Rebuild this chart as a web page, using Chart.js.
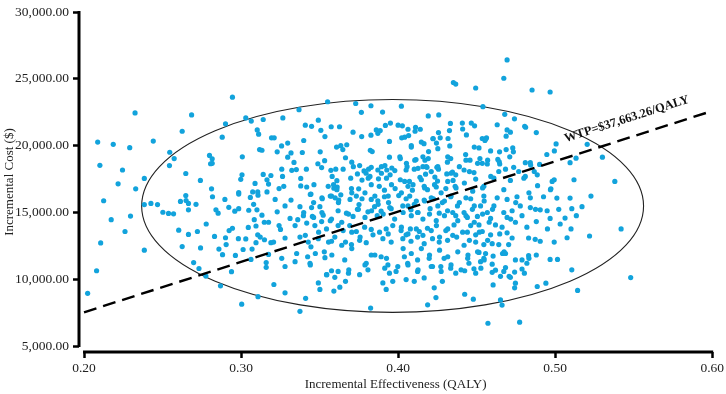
<!DOCTYPE html>
<html><head><meta charset="utf-8">
<script src="https://cdn.jsdelivr.net/npm/chart.js@4/dist/chart.umd.min.js"></script>
<style>html,body{margin:0;padding:0;background:#fff}#wrap{width:726px;height:394px}</style>
</head><body><div id="wrap"><canvas id="c" width="726" height="394"></canvas></div>
<script>
// Monte Carlo simulations: [incremental effectiveness (QALY), incremental cost ($)]
const simLeft = [[0.2325,22450],[0.2087,20270],[0.2186,20100],[0.2291,19850],[0.2441,20350],[0.2101,18530],[0.2245,18180],[0.2217,17150],[0.2384,17550],[0.2329,16770],[0.2125,15880],[0.2384,15590],[0.2426,15680],[0.2468,15590],[0.2173,14460],[0.2296,14730],[0.2261,13580],[0.2106,12720],[0.2384,12180],[0.2080,10640],[0.2023,8950],
[0.2945,23630],[0.2685,22300],[0.2625,21080],[0.2546,19510],[0.2574,19040],[0.2544,18510],[0.2648,17920],[0.2741,17400],[0.2812,16770],[0.2901,21640],[0.2880,20640],[0.3030,22080],[0.3065,21840],[0.3141,21960],[0.3103,21180],[0.3112,20860],[0.3118,19710],[0.3133,19660],[0.3008,19170],[0.2799,19270],[0.2816,19020],[0.2806,18650],[0.2816,18680],[0.3006,17820],[0.2998,17480],[0.3141,17850],[0.3165,17450],[0.3089,17180],[0.3175,17130],[0.3190,17770],[0.2985,16490],[0.3074,16540],[0.3106,16540],[0.3165,16540],[0.3194,20590]];
const simLeftLow = [[0.2502,15020],[0.2538,14930],[0.2570,14900],[0.2614,15830],[0.2648,16270],[0.2650,15900],[0.2665,15680],[0.2665,15200],[0.2713,15610],[0.2603,13680],[0.2665,13360],[0.2722,13580],[0.2625,12450],[0.2742,12350],[0.2698,11250],[0.2732,10810],[0.2776,10240],[0.2778,14140],[0.2818,16180],[0.2897,15980],[0.2840,15200],[0.2854,14950],[0.2922,15390],[0.2960,15100],[0.2985,15290],[0.3049,15170],[0.3101,15200],[0.2985,16380],[0.3059,16130],[0.3108,16300],[0.3080,15610],[0.2831,13210],[0.2901,13110],[0.2924,13650],[0.2945,13820],[0.2983,13040],[0.3030,13020],[0.3046,13880],[0.3095,13990],[0.3084,14460],[0.3133,14800],[0.3148,14270],[0.3175,14270],[0.3106,13330],[0.3122,13160],[0.3095,12740],[0.3149,12960],[0.3190,12740],[0.2905,12600],[0.2859,12260],[0.2882,11840],[0.2964,11790],[0.3013,12230],[0.3070,12260],[0.3063,11490],[0.3175,11860],[0.3160,11250],[0.3160,10900],[0.2939,10570],[0.2869,9510],[0.3108,8700],[0.3004,8140]];
const simMidHigh = [[0.4352,24730],[0.4367,24610],[0.3551,23290],[0.3369,22700],[0.3266,22080],[0.3730,23160],[0.3827,22990],[0.3766,22500],[0.3901,22520],[0.4021,22960],[0.4192,22230],[0.4259,22300],[0.3492,21910],[0.3409,21540],[0.3449,21450],[0.3574,21420],[0.3627,21420],[0.3508,21150],[0.3534,20680],[0.3713,21010],[0.3768,20680],[0.3827,20790],[0.3861,21180],[0.3886,21130],[0.3871,20930],[0.3919,21520],[0.3951,21690],[0.4000,21540],[0.4027,21490],[0.4063,21230],[0.4067,20760],[0.4023,20590],[0.4111,21380],[0.4141,21230],[0.4108,21080],[0.4257,20980],[0.4327,21130],[0.4333,21670],[0.4223,20540],[0.4244,20200],[0.4318,20540],[0.4329,19980],[0.3945,20320],[0.3211,20590],[0.3399,20390],[0.3297,20200],[0.3258,19980],[0.3230,19540],[0.3318,19460],[0.3297,19140],[0.3337,18750],[0.3390,19490],[0.3504,19540],[0.3532,18880],[0.3608,19900],[0.3635,20000],[0.3673,20070],[0.3648,19710],[0.3665,19100],[0.3823,19660],[0.3835,19560],[0.3945,19140],[0.4014,19040],[0.4084,20000],[0.4165,20150],[0.4194,19560],[0.4192,19040],[0.4268,20590],[0.4314,18770],[0.4335,19040],[0.4114,18960],[0.4171,18910]];
const simMidUpper = [[0.3259,18240],[0.3323,18160],[0.3352,18210],[0.3416,18240],[0.3489,18650],[0.3513,18360],[0.3572,18160],[0.3603,18240],[0.3650,18240],[0.3705,18770],[0.3715,18430],[0.3755,18510],[0.3783,18110],[0.3812,18240],[0.3829,18380],[0.3871,18180],[0.3916,18510],[0.3960,18330],[0.3979,18140],[0.4057,18430],[0.4103,18240],[0.4158,18430],[0.4184,18380],[0.4247,18380],[0.4257,18240],[0.4346,18020],[0.3264,17700],[0.3380,17550],[0.3418,16910],[0.3464,17080],[0.3242,16790],[0.3272,16960],[0.3580,17700],[0.3610,17380],[0.3612,16910],[0.3555,16960],[0.3698,17570],[0.3741,17890],[0.3770,17430],[0.3796,17940],[0.3821,17700],[0.3875,17520],[0.3894,17940],[0.3928,18180],[0.3949,17820],[0.4014,17450],[0.4051,18180],[0.4072,17330],[0.4139,17630],[0.4175,17870],[0.4234,17650],[0.4251,17350],[0.4310,17890],[0.4350,17400],[0.3703,16790],[0.3749,16770],[0.3829,17080],[0.3880,16960],[0.3913,16670],[0.3981,16790],[0.4063,16960],[0.4091,16670],[0.4166,16960],[0.4187,16710],[0.4243,16910],[0.4304,16790],[0.4363,16960],[0.4367,17820],[0.3380,16990],[0.3591,16820]];
const simMidLower = [[0.3217,15980],[0.3318,15930],[0.3445,16380],[0.3517,16030],[0.3576,16230],[0.3622,15930],[0.3635,16320],[0.3694,15980],[0.3734,16230],[0.3751,15590],[0.3770,16030],[0.3829,15980],[0.3871,15880],[0.3913,16180],[0.3939,15740],[0.4004,16270],[0.4051,16030],[0.4103,15610],[0.4166,15930],[0.4225,16030],[0.4282,15740],[0.4335,16180],[0.4378,15490],[0.3280,15490],[0.3230,15050],[0.3375,15440],[0.3449,15370],[0.3502,15440],[0.3312,14560],[0.3361,14460],[0.3397,14760],[0.3454,14710],[0.3523,14800],[0.3576,14510],[0.3618,15130],[0.3671,14950],[0.3713,14710],[0.3741,15240],[0.3808,15050],[0.3850,15440],[0.3867,14760],[0.3892,15100],[0.3956,15290],[0.4030,15490],[0.4082,15200],[0.4124,15000],[0.4204,15290],[0.4262,14950],[0.4315,15130],[0.4367,14760],[0.3242,14020],[0.3251,13730],[0.3344,14020],[0.3418,14210],[0.3470,14020],[0.3513,14320],[0.3544,13770],[0.3618,14020],[0.3650,13650],[0.3692,14020],[0.3734,13580],[0.3787,13900],[0.3829,13730],[0.3882,13530],[0.3924,13770],[0.3966,14020],[0.4019,13650],[0.4051,13330],[0.4078,13770],[0.4135,13580],[0.4187,13820],[0.4244,14020],[0.4304,13650],[0.4356,14070],[0.3207,12790],[0.3280,13090],[0.3375,13160],[0.3428,12790],[0.3445,12430],[0.3492,13040],[0.3576,12850],[0.3597,13160],[0.3665,12790],[0.3703,12600],[0.3755,12920],[0.3797,12740],[0.3840,13330],[0.3903,13040],[0.3956,12790],[0.4030,13040],[0.4082,12850],[0.4124,13160],[0.4166,12670],[0.4219,13040],[0.4262,12790],[0.4315,12920],[0.4373,13160]];
const simMidLow = [[0.3354,11930],[0.3259,11570],[0.3280,10960],[0.3344,11320],[0.3424,11690],[0.3439,11200],[0.3530,12060],[0.3534,11620],[0.3544,10350],[0.3576,10640],[0.3597,10150],[0.3618,10590],[0.3660,11450],[0.3686,10710],[0.3665,9850],[0.3629,9410],[0.3591,9120],[0.3492,9730],[0.3502,9240],[0.3280,8990],[0.3411,8580],[0.3375,7600],[0.3209,9610],[0.3755,10350],[0.3808,10710],[0.3797,11200],[0.3829,11820],[0.3892,11690],[0.3935,11080],[0.3903,9730],[0.3924,9240],[0.3945,10460],[0.3987,10590],[0.3966,9850],[0.3998,10960],[0.4040,11690],[0.4061,11200],[0.4051,9980],[0.4103,9850],[0.4124,10590],[0.4166,10100],[0.4124,11450],[0.4198,11570],[0.4219,10960],[0.4272,10960],[0.4293,11570],[0.4335,10830],[0.4367,10460],[0.4282,9850],[0.4230,9360],[0.4241,8630],[0.4188,8090],[0.3825,7850]];
const simRightHigh = [[0.4694,26420],[0.4673,25050],[0.4494,24320],[0.4853,24170],[0.4968,24020],[0.4540,22920],[0.4679,22350],[0.4741,22010],[0.4806,21450],[0.4880,20980],[0.4409,21690],[0.4466,21690],[0.4487,21490],[0.4631,21570],[0.4694,21180],[0.4715,21010],[0.4688,20710],[0.4435,20810],[0.4536,20540],[0.4563,20590],[0.4553,20390],[0.4515,19830],[0.4589,19610],[0.4646,19540],[0.4688,19710],[0.4730,19830],[0.4734,19540],[0.4711,19170],[0.4430,19340],[0.4458,18920],[0.4521,19040],[0.4536,18680],[0.4568,18630],[0.4635,18970],[0.4647,18630],[0.4736,18380],[0.4684,18240],[0.4842,18730],[0.4901,18600],[0.4947,19340],[0.4995,19610],[0.5006,20130],[0.5095,18730],[0.5133,19070],[0.5204,20100],[0.5301,19140],[0.5380,17330],[0.5120,17450],[0.4994,17450],[0.4973,16770],[0.4888,17010],[0.4810,17700],[0.4867,18070],[0.4810,18730],[0.4610,17570],[0.4673,16710],[0.4715,17400],[0.4768,18070],[0.4420,18180],[0.4483,17990],[0.4494,17500],[0.4546,16960],[0.4641,18070]];
const simRightLow = [[0.5228,16230],[0.5095,16080],[0.5011,16080],[0.5171,15440],[0.5106,15290],[0.5135,14760],[0.5063,14580],[0.5032,14140],[0.5101,13770],[0.5076,13110],[0.5219,13240],[0.5420,13770],[0.5481,10130],[0.5143,9170],[0.5106,10710],[0.4941,9710],[0.4886,9460],[0.4747,9710],[0.4742,9360],[0.4652,8460],[0.4662,8070],[0.4479,8510],[0.4424,8880],[0.4572,6710],[0.4774,6790],[0.4605,9580],[0.4715,10150],[0.4789,10770],[0.4804,10460],[0.4742,10540],[0.4673,10590],[0.4620,10680],[0.4599,10520],[0.4652,10220],[0.4483,10790],[0.4494,10460],[0.4424,10640],[0.4968,11490],[0.5015,11490],[0.4880,11820],[0.4831,11770],[0.4820,11200],[0.4789,11450],[0.4684,10880],[0.4747,11450],[0.4684,11930],[0.4665,11930],[0.4599,11130],[0.4525,11320],[0.4557,11930],[0.4451,11200],[0.4445,11820],[0.4515,12010],[0.4546,11570],[0.4605,11740],[0.4420,12550],[0.4494,12790],[0.4546,12600],[0.4599,12670],[0.4641,12600],[0.4704,12600],[0.4726,13090],[0.4694,13480],[0.4647,13400],[0.4589,13330],[0.4536,13580],[0.4494,13330],[0.4441,13530],[0.4462,14020],[0.4515,14070],[0.4620,14070],[0.4662,13900],[0.4747,14270],[0.4820,13900],[0.4831,13090],[0.4873,12990],[0.4905,12850],[0.4994,12790],[0.4880,14320],[0.4951,13770],[0.4968,14560],[0.4905,15200],[0.4842,15370],[0.4778,15490],[0.4726,15130],[0.4673,15000],[0.4610,15490],[0.4568,15000],[0.4525,15490],[0.4473,15240],[0.4420,15000],[0.4441,14630],[0.4505,14710],[0.4589,14560],[0.4694,14630],[0.4789,14760],[0.4926,16180],[0.4842,16100],[0.4757,16180],[0.4694,15980],[0.4631,16100],[0.4546,16230],[0.4462,16030]];
const simCoreRight = [[0.4011,19170],[0.4053,18680],[0.4106,18920],[0.4158,19170],[0.4127,18310],[0.4179,18430],[0.4211,18060],[0.4253,18430],[0.4316,19170],[0.4337,17940],[0.4390,18430],[0.4432,18920],[0.4454,18060],[0.4506,18680],[0.4570,18920],[0.4590,17700],[0.4042,17330],[0.4095,17080],[0.4148,17450],[0.4169,16840],[0.4232,17080],[0.4274,16470],[0.4316,17330],[0.4369,16840],[0.4422,17210],[0.4475,16600],[0.4538,16840],[0.4021,16470],[0.4074,16230],[0.4116,15860],[0.4063,15490],[0.4169,15860],[0.4211,16100],[0.4253,15490],[0.4295,15860],[0.4337,16230],[0.4390,15740],[0.4432,16100],[0.4485,15490],[0.4548,15860],[0.4601,15240],[0.4032,15000],[0.4084,14760],[0.4127,15000],[0.4158,14510],[0.4200,14880],[0.4243,14390],[0.4295,14760],[0.4348,15000],[0.4380,14390],[0.4432,14760],[0.4485,14270],[0.4538,14880],[0.4580,14270],[0.4021,13900],[0.4063,13400],[0.4116,13770],[0.4158,13290],[0.4211,13650],[0.4264,13160],[0.4316,13770],[0.4348,13290],[0.4411,13530],[0.4454,12920],[0.4517,13530],[0.4570,12920],[0.4032,12300],[0.4084,11930],[0.4148,12300],[0.4200,11820],[0.4264,12180],[0.4316,11690],[0.4380,12060],[0.4443,11570],[0.4506,12060],[0.4548,11450],[0.4063,11080],[0.4127,10710],[0.4211,10960],[0.4274,10590],[0.4337,11080],[0.4401,10710],[0.4527,10830],[0.4042,20640],[0.4148,20270],[0.4222,20520],[0.4411,21250],[0.4559,20520],[0.4485,19900],[0.4253,19780],[0.4084,19900]];
const simCoreLeft = [[0.3589,17080],[0.3610,16710],[0.3568,16230],[0.3599,16100],[0.3620,15740],[0.3441,16350],[0.3462,15740],[0.3515,16100],[0.3399,15000],[0.3462,14630],[0.3515,15000],[0.3568,14390],[0.3641,14270],[0.3684,14880],[0.3747,15240],[0.3789,14630],[0.3831,15130],[0.3873,15610],[0.3905,14880],[0.3947,15370],[0.3978,14510],[0.3705,13530],[0.3758,13160],[0.3937,13400],[0.3409,13290],[0.3494,13530],[0.3557,12790],[0.3641,12550],[0.3705,12300],[0.3852,11820],[0.3926,11570],[0.3473,11930],[0.3578,11820],[0.3441,11080],[0.3546,10350],[0.3684,10460],[0.3789,11080],[0.3915,10830],[0.3810,17570],[0.3894,18430],[0.3926,17570],[0.3958,17080],[0.3705,16470],[0.3789,16470],[0.3852,16230],[0.3937,16230]];
const simCoreFar = [[0.4812,21380],[0.4644,18800],[0.4844,18550],[0.4801,17570],[0.4886,17820],[0.4981,17330],[0.4833,16470],[0.4970,16710],[0.4749,15740],[0.4875,15240],[0.4949,15130],[0.5023,15240],[0.4717,14510],[0.4675,12060],[0.4833,11570],[0.4707,10220]];

// Willingness-to-pay threshold line and confidence ellipse
const wtpLabel = 'WTP=$37,663.26/QALY';
const wtpLineX = [0.20, 0.60];
const wtpLineY = [7532.65, 22597.96];
const ellipseCenter = [0.3965, 15490];
const ellipseRadius = [0.1598, 7966];

const xTicks = [0.20, 0.30, 0.40, 0.50, 0.60];
const yTicks = [5000, 10000, 15000, 20000, 25000, 30000];

const allPoints = [].concat(simLeft, simLeftLow, simMidHigh, simMidUpper, simMidLower, simMidLow,
  simRightHigh, simRightLow, simCoreRight, simCoreLeft, simCoreFar).map(p => ({x: p[0], y: p[1]}));

const SERIF = "'Liberation Serif', 'Times New Roman', serif";

const decor = {
  id: 'decor',
  beforeDatasetsDraw(chart) {
    const {ctx, scales: {x, y}} = chart;
    ctx.save();
    const cx = x.getPixelForValue(ellipseCenter[0]);
    const cy = y.getPixelForValue(ellipseCenter[1]);
    const rx = x.getPixelForValue(ellipseCenter[0] + ellipseRadius[0]) - cx;
    const ry = cy - y.getPixelForValue(ellipseCenter[1] + ellipseRadius[1]);
    ctx.beginPath();
    ctx.ellipse(cx, cy, rx, ry, 0, 0, Math.PI * 2);
    ctx.strokeStyle = '#222';
    ctx.lineWidth = 1.1;
    ctx.stroke();
    ctx.restore();
  },
  afterDraw(chart) {
    const {ctx, scales: {x, y}, chartArea} = chart;
    ctx.save();
    ctx.strokeStyle = '#000';
    ctx.lineWidth = 3;
    ctx.lineCap = 'butt';
    ctx.beginPath();
    ctx.moveTo(chartArea.left, y.getPixelForValue(yTicks[yTicks.length - 1]) - 1);
    ctx.lineTo(chartArea.left, y.getPixelForValue(yTicks[0]) + 1);
    ctx.stroke();
    ctx.beginPath();
    ctx.moveTo(x.getPixelForValue(xTicks[0]) - 1, chartArea.bottom);
    ctx.lineTo(x.getPixelForValue(xTicks[xTicks.length - 1]) + 1, chartArea.bottom);
    ctx.stroke();
    const x1 = x.getPixelForValue(wtpLineX[0]), y1 = y.getPixelForValue(wtpLineY[0]);
    const x2 = x.getPixelForValue(wtpLineX[1]), y2 = y.getPixelForValue(wtpLineY[1]);
    const ang = Math.atan2(y2 - y1, x2 - x1);
    const tx = x.getPixelForValue(0.5456), ty = y.getPixelForValue(21985);
    ctx.translate(tx, ty);
    ctx.rotate(ang);
    ctx.font = 'bold 12.5px ' + SERIF;
    ctx.fillStyle = '#111';
    ctx.textAlign = 'center';
    ctx.textBaseline = 'middle';
    ctx.fillText(wtpLabel, 0, 0);
    ctx.restore();
  }
};

new Chart(document.getElementById('c'), {
  type: 'scatter',
  data: {
    datasets: [
      {
        type: 'line',
        data: wtpLineX.map((v, i) => ({x: v, y: wtpLineY[i]})),
        borderColor: '#000', borderWidth: 2.4, borderDash: [13, 7],
        pointRadius: 0, fill: false, order: 0
      },
      {
        data: allPoints,
        backgroundColor: '#12a3dc', borderWidth: 0, pointRadius: 2.6, order: 1
      }
    ]
  },
  options: {
    responsive: false, animation: false,
    layout: {padding: {top: 6, right: 10, left: 0, bottom: 0}},
    plugins: {legend: {display: false}, tooltip: {enabled: false}},
    scales: {
      x: {
        type: 'linear', min: 0.1968, max: 0.6,
        afterBuildTicks: s => { s.ticks = xTicks.map(v => ({value: v})); },
        afterFit: s => { s.height = 42; },
        ticks: {callback: v => v.toFixed(2), font: {family: SERIF, size: 13.5}, color: '#222', padding: 2, maxRotation: 0, autoSkip: false},
        grid: {drawOnChartArea: false, drawTicks: true, tickLength: 6, tickWidth: 2.5, tickColor: '#000'},
        border: {display: false},
        title: {display: true, text: 'Incremental Effectiveness (QALY)', font: {family: SERIF, size: 13}, color: '#222', padding: {top: 0, bottom: 2}}
      },
      y: {
        type: 'linear', min: 4559, max: 30000,
        afterBuildTicks: s => { s.ticks = yTicks.map(v => ({value: v})); },
        afterFit: s => { s.width = 79; },
        ticks: {callback: v => v.toLocaleString('en-US', {minimumFractionDigits: 2, maximumFractionDigits: 2}), font: {family: SERIF, size: 13.5}, color: '#222', padding: 4, autoSkip: false},
        grid: {drawOnChartArea: false, drawTicks: true, tickLength: 6, tickWidth: 2.5, tickColor: '#000'},
        border: {display: false},
        title: {display: true, text: 'Incremental Cost ($)', font: {family: SERIF, size: 13}, color: '#222', padding: {top: 2, bottom: 0}}
      }
    }
  },
  plugins: [decor]
});
</script>
</body></html>
